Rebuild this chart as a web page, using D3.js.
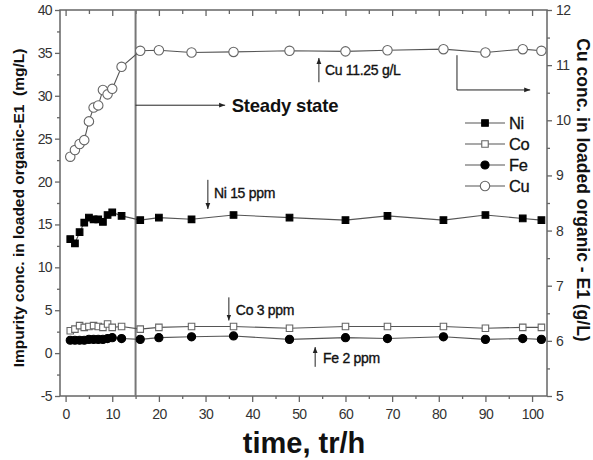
<!DOCTYPE html>
<html><head><meta charset="utf-8">
<script src="https://cdn.jsdelivr.net/npm/d3@7"></script>
<style>
body{margin:0;background:#fff;}
text{font-family:"Liberation Sans",Arial,sans-serif;}
</style></head>
<body><svg id="c" width="593" height="460"></svg>
<script>
const time = [1,2,3,4,5,6,7,8,9,10,12,16,20,27,36,48,60,69,81,90,98,102];
const ni = [13.3,12.8,14.1,15.2,15.8,15.6,15.6,15.3,16.1,16.4,16.0,15.5,15.8,15.6,16.1,15.8,15.5,16.0,15.5,16.1,15.7,15.5];
const co = [2.6,2.8,3.2,3.0,3.1,3.2,3.1,3.0,3.4,3.0,3.1,2.8,3.0,3.1,3.1,2.9,3.1,3.1,3.1,2.9,3.0,3.0];
const fe = [1.5,1.5,1.5,1.5,1.6,1.6,1.6,1.6,1.7,1.8,1.7,1.6,1.8,1.9,2.0,1.6,1.8,1.7,1.9,1.6,1.7,1.6];
const cu = [9.34,9.46,9.57,9.64,9.98,10.23,10.27,10.55,10.47,10.57,10.97,11.26,11.27,11.23,11.24,11.26,11.25,11.27,11.29,11.23,11.29,11.26];
const xTicks = [0,10,20,30,40,50,60,70,80,90,100];
const yLTicks = [-5,0,5,10,15,20,25,30,35,40];
const yRTicks = [5,6,7,8,9,10,11,12];
const seriesNames = ["Ni","Co","Fe","Cu"];

const svg = d3.select("#c");
const L=60,R=547,T=10,B=396;
const x = d3.scaleLinear().domain([-1.2,103.2]).range([L,R]);
const yL = d3.scaleLinear().domain([-5,40]).range([B,T]);
const yR = d3.scaleLinear().domain([5,12]).range([B,T]);
const axisCol="#666", textCol="#333";

svg.append("defs").append("marker").attr("id","ah").attr("viewBox","0 0 10 10")
  .attr("refX",10).attr("refY",5).attr("markerWidth",6).attr("markerHeight",6)
  .attr("orient","auto-start-reverse").attr("markerUnits","userSpaceOnUse")
  .append("path").attr("d","M0,1 L10,5 L0,9 z").attr("fill","#222");

// frame
svg.append("rect").attr("x",L).attr("y",T).attr("width",R-L).attr("height",B-T)
  .attr("fill","none").attr("stroke",axisCol).attr("stroke-width",1.5);

function styleAxis(g){
  g.select(".domain").remove();
  g.selectAll("line").attr("stroke",axisCol).attr("stroke-width",1.3);
  g.selectAll("text").attr("fill",textCol).style("font-size","14px").style("letter-spacing","-0.6px");
}
const minorX = d3.range(5,101,10);
// bottom
svg.append("g").attr("transform",`translate(0,${B})`)
  .call(d3.axisBottom(x).tickValues(xTicks).tickSize(6).tickPadding(7)).call(styleAxis);
svg.append("g").attr("transform",`translate(0,${B})`)
  .call(d3.axisBottom(x).tickValues(minorX).tickSize(3).tickFormat("")).call(styleAxis);
// top (inward)
svg.append("g").attr("transform",`translate(0,${T})`)
  .call(d3.axisBottom(x).tickValues(xTicks).tickSize(6).tickFormat("")).call(styleAxis);
svg.append("g").attr("transform",`translate(0,${T})`)
  .call(d3.axisBottom(x).tickValues(minorX).tickSize(4).tickFormat("")).call(styleAxis);
// left
svg.append("g").attr("transform",`translate(${L},0)`)
  .call(d3.axisLeft(yL).tickValues(yLTicks).tickSize(5).tickPadding(3)).call(styleAxis);
svg.append("g").attr("transform",`translate(${L},0)`)
  .call(d3.axisLeft(yL).tickValues(d3.range(-2.5,40,5)).tickSize(3).tickFormat("")).call(styleAxis);
// right
svg.append("g").attr("transform",`translate(${R},0)`)
  .call(d3.axisRight(yR).tickValues(yRTicks).tickSize(5).tickPadding(4).tickFormat(d3.format("d"))).call(styleAxis);
svg.append("g").attr("transform",`translate(${R},0)`)
  .call(d3.axisRight(yR).tickValues(d3.range(5.5,12,1)).tickSize(3).tickFormat("")).call(styleAxis);
svg.selectAll("text").filter(function(){return this.textContent==="−5";}).text("-5");

// steady state line
svg.append("line").attr("x1",x(15)).attr("x2",x(15)).attr("y1",T).attr("y2",B)
  .attr("stroke","#777").attr("stroke-width",2);

// series
const lineCol="#555";
function drawSeries(vals, yScale, shape, fill, stroke, size){
  const pts = time.map((t,i)=>[x(t),yScale(vals[i])]);
  svg.append("path").attr("d",d3.line()(pts)).attr("fill","none").attr("stroke",lineCol).attr("stroke-width",1.1);
  const sym = d3.symbol().type(shape).size(size);
  svg.append("g").selectAll("path").data(pts).join("path")
    .attr("transform",d=>`translate(${d[0]},${d[1]})`).attr("d",sym)
    .attr("fill",fill).attr("stroke",stroke).attr("stroke-width",1.1);
}
drawSeries(cu, yR, d3.symbolCircle, "#fff", "#666", 70);
drawSeries(co, yL, d3.symbolSquare, "#fff", "#666", 42);
drawSeries(fe, yL, d3.symbolCircle, "#000", "#000", 52);
drawSeries(ni, yL, d3.symbolSquare, "#000", "#000", 44);

// annotations
function arrow(x1,y1,x2,y2){
  svg.append("line").attr("x1",x1).attr("y1",y1).attr("x2",x2).attr("y2",y2)
    .attr("stroke","#222").attr("stroke-width",1).attr("marker-end","url(#ah)");
}
function note(t,xx,yy){
  svg.append("text").attr("x",xx).attr("y",yy).text(t)
    .style("font-size","14px").style("letter-spacing","-0.3px").attr("fill","#111")
    .attr("stroke","#111").attr("stroke-width",0.35);
}
arrow(x(15),yL(28.9),x(34.2),yL(28.9));
svg.append("text").attr("x",x(35.6)).attr("y",yL(28.9)+6.5).text("Steady state")
  .style("font-size","18.5px").style("font-weight","bold").style("letter-spacing","-0.2px").attr("fill","#111");

arrow(x(54.3),yR(10.69),x(54.3),yR(11.13));
note("Cu 11.25 g/L", x(55.6), yR(10.82));
svg.append("path").attr("d",`M${x(83.9)},${yR(11.18)} V${yR(10.55)} H${x(99.6)}`)
  .attr("fill","none").attr("stroke","#222").attr("stroke-width",1).attr("marker-end","url(#ah)");

arrow(x(30.5),yL(20.2),x(30.5),yL(16.8));
note("Ni 15 ppm", x(31.8), yL(18.1));
arrow(x(35),yL(6.5),x(35),yL(3.8));
note("Co 3 ppm", x(36.5), yL(4.4));
arrow(x(53.5),yL(-1.6),x(53.5),yL(0.7));
note("Fe 2 ppm", x(55.2), yL(-1.2));

// legend
const legSpec = [
  {shape:d3.symbolSquare,fill:"#000",stroke:"#000",size:44},
  {shape:d3.symbolSquare,fill:"#fff",stroke:"#666",size:42},
  {shape:d3.symbolCircle,fill:"#000",stroke:"#000",size:52},
  {shape:d3.symbolCircle,fill:"#fff",stroke:"#666",size:70}];
seriesNames.forEach((n,i)=>{
  const yy = 123 + i*21;
  svg.append("line").attr("x1",465).attr("x2",505).attr("y1",yy).attr("y2",yy).attr("stroke",lineCol).attr("stroke-width",1.1);
  svg.append("path").attr("transform",`translate(485,${yy})`).attr("d",d3.symbol().type(legSpec[i].shape).size(legSpec[i].size))
    .attr("fill",legSpec[i].fill).attr("stroke",legSpec[i].stroke).attr("stroke-width",1.1);
  svg.append("text").attr("x",509).attr("y",yy+6).text(n).style("font-size","16.5px").style("letter-spacing","-0.4px")
    .attr("fill","#111").attr("stroke","#111").attr("stroke-width",0.3);
});

// axis titles
svg.append("text").attr("transform",`translate(24,208) rotate(-90)`).attr("text-anchor","middle")
  .style("white-space","pre")
  .text("Impurity conc. in loaded organic-E1  (mg/L)").style("font-size","15.5px").style("font-weight","bold").attr("fill","#111");
svg.append("text").attr("transform",`translate(577,190) rotate(90)`).attr("text-anchor","middle")
  .text("Cu conc. in loaded organic - E1 (g/L)").style("font-size","17.5px").style("font-weight","bold").attr("fill","#111");
svg.append("text").attr("x",304).attr("y",453).attr("text-anchor","middle")
  .text("time, tr/h").style("font-size","29px").style("font-weight","bold").attr("fill","#111");
</script></body></html>
